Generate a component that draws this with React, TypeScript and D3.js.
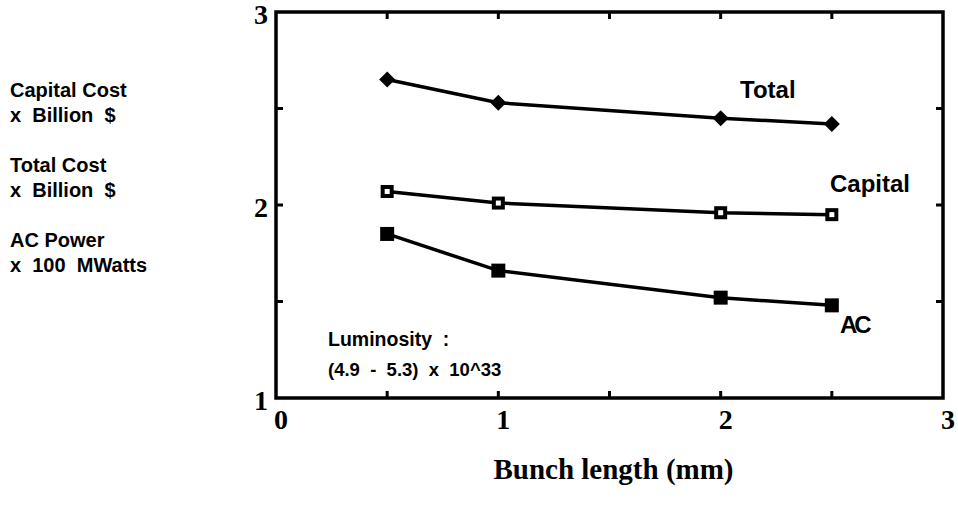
import React from 'react';
import * as d3 from 'd3';

const bunchLength = [0.5, 1, 2, 2.5];
const totalCost = [2.65, 2.53, 2.45, 2.42];
const capitalCost = [2.07, 2.01, 1.96, 1.95];
const acPower = [1.85, 1.66, 1.52, 1.48];
const xTicks = [0, 1, 2, 3];
const yTicks = [1, 2, 3];
const minorTicks = [0.5, 1, 1.5, 2, 2.5];
const yMinor = [1.5, 2, 2.5];
const sideNotes = ['Capital Cost', 'x  Billion  $', 'Total Cost', 'x  Billion  $', 'AC Power', 'x  100  MWatts'];

const sans = '"Liberation Sans", Arial, sans-serif';
const serif = '"Liberation Serif", "Times New Roman", serif';

const App = () => {
  const width = 958;
  const height = 508;
  const x = d3.scaleLinear().domain([0, 3]).range([276, 943]);
  const y = d3.scaleLinear().domain([1, 3]).range([398, 12]);

  const line = d3.line<[number, number]>()
    .x((d) => x(d[0]))
    .y((d) => y(d[1]));

  const pts = (vals: number[]) => bunchLength.map((b, i) => [b, vals[i]] as [number, number]);

  return (
    <svg width={width} height={height} style={{ position: 'absolute', left: 0, top: 0, background: 'white' }}>
      {/* frame */}
      <rect x={x(0)} y={y(3)} width={x(3) - x(0)} height={y(1) - y(3)} fill="none" stroke="black" strokeWidth={3.5} />

      {/* inward ticks */}
      {minorTicks.map((t) => (
        <g key={'xt' + t}>
          <line x1={x(t)} x2={x(t)} y1={y(1)} y2={y(1) - 7} stroke="black" strokeWidth={3} />
          <line x1={x(t)} x2={x(t)} y1={y(3)} y2={y(3) + 7} stroke="black" strokeWidth={3} />
        </g>
      ))}
      {yMinor.map((t) => (
        <g key={'yt' + t}>
          <line x1={x(0)} x2={x(0) + 7} y1={y(t)} y2={y(t)} stroke="black" strokeWidth={3} />
          <line x1={x(3)} x2={x(3) - 7} y1={y(t)} y2={y(t)} stroke="black" strokeWidth={3} />
        </g>
      ))}

      {/* tick labels */}
      {xTicks.map((t) => (
        <text key={'xl' + t} x={x(t) + 5} y={y(1) + 31} textAnchor="middle" fontFamily={serif} fontWeight="bold" fontSize={28}>{t}</text>
      ))}
      {yTicks.map((t) => (
        <text key={'yl' + t} x={x(0) - 8} y={y(t) + 12} textAnchor="end" fontFamily={serif} fontWeight="bold" fontSize={28}>{t}</text>
      ))}

      <text x={x(1.5) + 4} y={479} textAnchor="middle" fontFamily={serif} fontWeight="bold" fontSize={29}>Bunch length (mm)</text>

      {/* series lines */}
      <path d={line(pts(totalCost)) || ''} fill="none" stroke="black" strokeWidth={3.5} />
      <path d={line(pts(capitalCost)) || ''} fill="none" stroke="black" strokeWidth={3.5} />
      <path d={line(pts(acPower)) || ''} fill="none" stroke="black" strokeWidth={3.5} />

      {/* markers */}
      {pts(totalCost).map((d, i) => (
        <path key={'tm' + i} transform={`translate(${x(d[0])},${y(d[1])})`} d="M0,-8L8,0L0,8L-8,0Z" fill="black" />
      ))}
      {pts(capitalCost).map((d, i) => (
        <g key={'cm' + i} transform={`translate(${x(d[0])},${y(d[1])})`}>
          <rect x={-6.5} y={-6.5} width={13} height={13} fill="black" />
          <rect x={-2.5} y={-2.5} width={5} height={5} fill="white" />
        </g>
      ))}
      {pts(acPower).map((d, i) => (
        <rect key={'am' + i} x={x(d[0]) - 7} y={y(d[1]) - 7} width={14} height={14} fill="black" />
      ))}

      {/* series labels */}
      <text x={740} y={98} fontFamily={sans} fontWeight="bold" fontSize={24}>Total</text>
      <text x={830} y={192} fontFamily={sans} fontWeight="bold" fontSize={24}>Capital</text>
      <text x={840} y={333} fontFamily={sans} fontWeight="bold" fontSize={24} letterSpacing={-3}>AC</text>

      <text x={328} y={346} fontFamily={sans} fontWeight="bold" fontSize={19.5} style={{ whiteSpace: 'pre' }}>Luminosity  :</text>
      <text x={328} y={376} fontFamily={sans} fontWeight="bold" fontSize={18.5} style={{ whiteSpace: 'pre' }}>(4.9  -  5.3)  x  10^33</text>

      {sideNotes.map((s, i) => (
        <text key={'sn' + i} x={10} y={97 + Math.floor(i / 2) * 75 + (i % 2) * 25} fontFamily={sans} fontWeight="bold" fontSize={20} style={{ whiteSpace: 'pre' }}>{s}</text>
      ))}
    </svg>
  );
};

export default App;
